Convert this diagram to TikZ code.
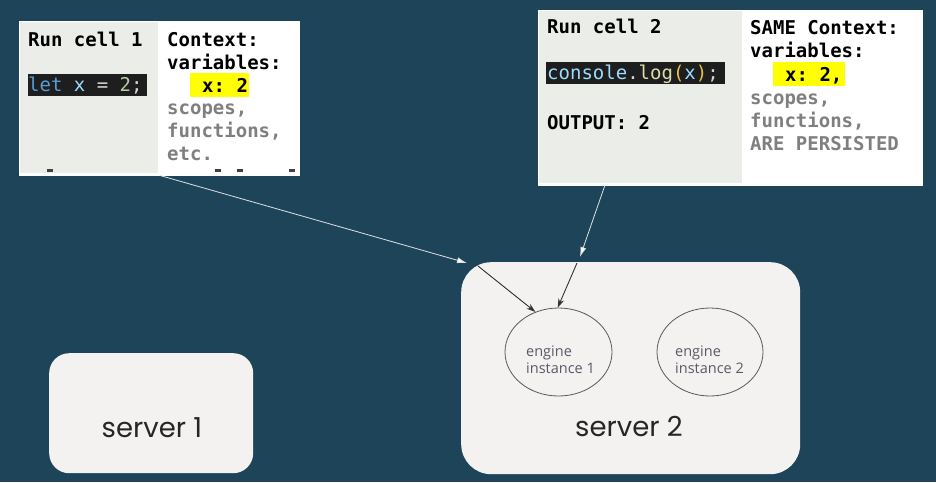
\documentclass[tikz,border=0pt]{standalone}
\usepackage{fontspec}
\setmainfont{Open Sans}
\newfontfamily\monofont{DejaVu Sans Mono}
\newfontfamily\serverfont{Poppins}
\newfontfamily\engfont{Open Sans}
\usetikzlibrary{arrows.meta,shapes.geometric}
\definecolor{bgcol}{HTML}{1E445A}
\definecolor{cellgrey}{HTML}{EBEDE8}
\definecolor{srvfill}{HTML}{F3F2F0}
\definecolor{codebg}{HTML}{1E1E1E}
\definecolor{kw}{HTML}{569CD6}
\definecolor{var}{HTML}{9CDCFE}
\definecolor{opc}{HTML}{D4D4D4}
\definecolor{num}{HTML}{B5CEA8}
\definecolor{fnc}{HTML}{DCDCAA}
\definecolor{paren}{HTML}{E8C04A}
\definecolor{hl}{HTML}{FFFF00}
\definecolor{greytxt}{HTML}{7F7F7F}
\definecolor{engtxt}{HTML}{5A5A66}
\definecolor{srvtxt}{HTML}{262626}
\begin{document}
\frenchspacing
\begin{tikzpicture}[x=1pt,y=-1pt,
  mono/.style={font=\monofont\bfseries\fontsize{19}{22.8}\selectfont, inner sep=0pt, anchor=base west},
  code/.style={font=\monofont\fontsize{19}{22.8}\selectfont, inner sep=0pt, anchor=base west},
  grey/.style={mono, text=greytxt},
  cellbox/.style={draw=white, fill=white, line width=1.5pt, inner sep=0pt, anchor=north west},
  greyfill/.style={fill=cellgrey, inner sep=0pt, anchor=north west},
  codefill/.style={fill=codebg, inner sep=0pt, anchor=north west},
  hlfill/.style={fill=hl, inner sep=0pt, anchor=north west},
  server/.style={fill=srvfill, inner sep=0pt, anchor=north west},
  srvlabel/.style={font=\serverfont\fontsize{27.5}{32}\selectfont, text=srvtxt, inner sep=0pt, anchor=base},
  engine/.style={ellipse, draw=black!65, line width=0.8pt, inner sep=0pt},
  englabel/.style={font=\engfont\fontsize{14.5}{17}\selectfont, text=engtxt, inner sep=0pt, anchor=base west},
  dashmark/.style={fill=black!75, inner sep=0pt, minimum width=6pt, minimum height=2.5pt},
  whitearrow/.style={draw=white!88!black, line width=0.8pt, -{Latex[length=10pt,width=6pt,fill=white]}},
  darkarrow/.style={draw=black!80, line width=0.9pt, -{Stealth[length=9pt,width=6pt]}}
]
\fill[bgcol] (0,0) rectangle (936,482);
\useasboundingbox (0,0) rectangle (936,482);

% ---- cell 1 ----
\node[cellbox, minimum width=279pt, minimum height=153pt] (cell1) at (19,21) {};
\node[greyfill, minimum width=138pt, minimum height=151pt] (cell1g) at (20,22) {};
\node[mono] (run1) at (28,46) {Run cell 1};
\node[codefill, minimum width=119pt, minimum height=22pt] (code1bg) at (28,74) {};
\node[code] (code1) at (28,91) {\textcolor{kw}{let} \textcolor{var}{x} \textcolor{opc}{=} \textcolor{num}{2}\textcolor{opc}{;}};
\node[mono] (ctx1) at (167,46) {Context:};
\node[mono] (var1) at (167,69) {variables:};
\node[hlfill, minimum width=59pt, minimum height=24pt] (hl1) at (190,73) {};
\node[mono] (x1) at (202,92) {x: 2};
\node[grey] (sc1) at (167,114) {scopes,};
\node[grey] (fn1) at (167,137) {functions,};
\node[grey] (etc1) at (167,160) {etc.};
\node[dashmark] (d1) at (50,170.5) {};
\node[dashmark] (d2) at (218,170.5) {};
\node[dashmark] (d3) at (240,170.5) {};
\node[dashmark] (d4) at (292,170.5) {};

% ---- cell 2 ----
\node[cellbox, minimum width=383pt, minimum height=174pt] (cell2) at (538,10) {};
\node[greyfill, minimum width=203pt, minimum height=172pt] (cell2g) at (539,11) {};
\node[mono] (run2) at (547,33) {Run cell 2};
\node[codefill, minimum width=179pt, minimum height=22pt] (code2bg) at (546,62) {};
\node[code] (code2) at (547,79) {\textcolor{var}{console}\textcolor{opc}{.}\textcolor{fnc}{log}\textcolor{paren}{(}\textcolor{var}{x}\textcolor{paren}{)}\textcolor{opc}{;}};
\node[mono] (out2) at (547,129) {OUTPUT: 2};
\node[mono] (ctx2) at (750,34) {SAME Context:};
\node[mono] (var2) at (750,57) {variables:};
\node[hlfill, minimum width=72pt, minimum height=24pt] (hl2) at (773,62) {};
\node[mono] (x2) at (785,81) {x: 2,};
\node[grey] (sc2) at (750,104) {scopes,};
\node[grey] (fn2) at (750,127) {functions,};
\node[grey] (ap2) at (750,150) {ARE PERSISTED};

% ---- servers ----
\node[server, rounded corners=20pt, minimum width=204pt, minimum height=120pt] (srv1) at (49,353) {};
\node[srvlabel] (srv1l) at (152,437) {server 1};
\node[server, rounded corners=30pt, minimum width=339pt, minimum height=212pt] (srv2) at (461,262) {};
\node[srvlabel] (srv2l) at (629,436) {server 2};

\node[engine, minimum width=107pt, minimum height=88pt] (e1) at (558.5,352) {};
\node[englabel] (e1a) at (526,356) {engine};
\node[englabel] (e1b) at (526,373) {instance 1};
\node[engine, minimum width=106pt, minimum height=88pt] (e2) at (710,352) {};
\node[englabel] (e2a) at (675,356) {engine};
\node[englabel] (e2b) at (675,373) {instance 2};

% ---- connectors ----
\coordinate (a1s) at (160,175.5);
\coordinate (a1e) at (467,263);
\draw[whitearrow] (a1s) -- (a1e);
\coordinate (b1s) at (478,266);
\draw[darkarrow] (b1s) -- (e1.120);
\coordinate (a2s) at (605,185);
\coordinate (a2e) at (580,257);
\draw[whitearrow] (a2s) -- (a2e);
\coordinate (b2s) at (577,263);
\draw[darkarrow] (b2s) -- (e1.91);
\end{tikzpicture}
\end{document}
